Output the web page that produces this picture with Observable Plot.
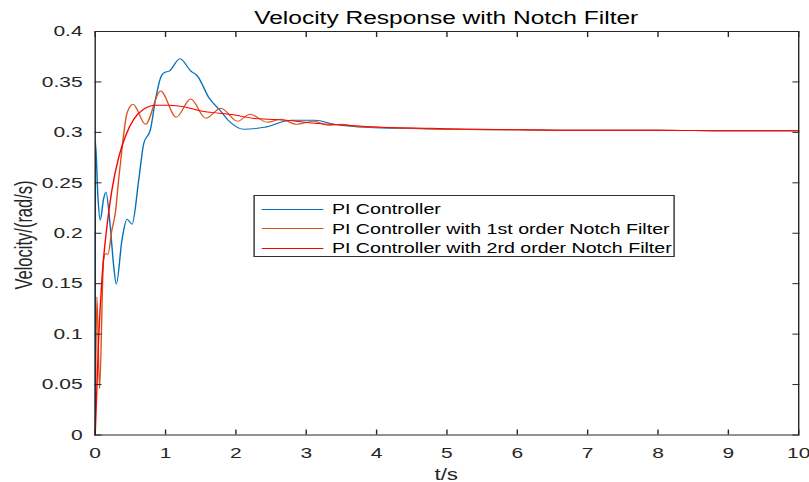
<!DOCTYPE html>
<html>
<head>
<meta charset="utf-8">
<script src="https://cdn.jsdelivr.net/npm/d3@7"></script>
<script src="https://cdn.jsdelivr.net/npm/@observablehq/plot@0.6"></script>
<style>
  html, body { margin: 0; padding: 0; background: #fff; overflow: hidden; }
  #wrap { position: relative; width: 578px; height: 482px; transform: scaleX(1.4); transform-origin: 0 0;
          font-family: "Liberation Sans", Arial, Helvetica, sans-serif; }
  #wrap svg { position: absolute; left: 0; top: 0; }
  .title { position: absolute; left: 67.5px; width: 502.5px; top: 10px; font-size: 17.5px; line-height: 17.5px;
           text-align: center; color: #000; white-space: nowrap; }
  .xlabel { position: absolute; left: 67.5px; width: 502.5px; top: 466.5px; font-size: 16px; line-height: 16px;
            text-align: center; color: #262626; }
  .ylabel { position: absolute; left: -83.2px; top: 225px; width: 200px; height: 20px; line-height: 20px;
            font-size: 16.5px; text-align: center; color: #262626; transform: rotate(-90deg); white-space: nowrap; }
  .legend { position: absolute; left: 180.7px; top: 195px; width: 301px; height: 62px; border: 1px solid #303030;
            background: #fff; box-sizing: border-box; }
  .row { position: absolute; left: 0; height: 18px; line-height: 18px; display: flex; align-items: center;
         font-size: 14px; color: #000; white-space: nowrap; }
  .sample { display: inline-block; width: 43.6px; height: 0; border-top: 1px solid; margin-left: 5.4px; margin-right: 6.4px; }
</style>
</head>
<body>
<div id="wrap"></div>
<script>
// ---- data ----
const seriesNames = ["PI Controller", "PI Controller with 1st order Notch Filter", "PI Controller with 2rd order Notch Filter"];
const seriesColors = ["#0072BD", "#D95319", "#FF0000"];

const tPI = [0, 0.003, 0.038, 0.071, 0.119, 0.152, 0.214, 0.262, 0.3, 0.381, 0.452, 0.524, 0.619, 0.69, 0.786, 0.857, 0.929, 0.976, 1.057, 1.205, 1.357, 1.452, 1.619, 1.786, 1.905, 2.12, 2.405, 2.786, 3.12, 3.4, 3.83, 4.3, 5, 6, 7, 8, 9, 10];
const vPI = [0, 0.291, 0.237, 0.213, 0.234, 0.241, 0.207, 0.168, 0.1496, 0.1935, 0.214, 0.209, 0.253, 0.289, 0.303, 0.3325, 0.354, 0.359, 0.361, 0.373, 0.361, 0.356, 0.334, 0.321, 0.311, 0.303, 0.305, 0.312, 0.312, 0.308, 0.305, 0.304, 0.303, 0.3025, 0.302, 0.302, 0.3015, 0.3015];

const tN1 = [0, 0.024, 0.062, 0.119, 0.15, 0.181, 0.238, 0.286, 0.333, 0.38, 0.452, 0.538, 0.714, 0.929, 1.152, 1.357, 1.571, 1.786, 2.024, 2.2, 2.45, 2.64, 2.86, 3.1, 3.31, 3.5, 3.74, 4.0, 4.5, 5, 6, 7, 8, 9, 10];
const vN1 = [0, 0.137, 0.046, 0.174, 0.18, 0.179, 0.2035, 0.22, 0.253, 0.283, 0.319, 0.328, 0.308, 0.341, 0.315, 0.333, 0.314, 0.324, 0.311, 0.318, 0.310, 0.313, 0.308, 0.311, 0.307, 0.308, 0.3055, 0.305, 0.304, 0.303, 0.3025, 0.302, 0.302, 0.3015, 0.3015];

const tN2 = [0, 0.048, 0.095, 0.167, 0.238, 0.333, 0.429, 0.548, 0.69, 0.857, 1.05, 1.286, 1.524, 1.76, 2.0, 2.24, 2.476, 2.71, 3.12, 3.595, 4.07, 4.786, 5.5, 6, 7, 8, 9, 10];
const vN2 = [0, 0.094, 0.154, 0.207, 0.243, 0.275, 0.296, 0.313, 0.323, 0.327, 0.327, 0.325, 0.321, 0.319, 0.317, 0.314, 0.313, 0.312, 0.309, 0.307, 0.305, 0.304, 0.303, 0.3025, 0.302, 0.302, 0.3015, 0.3015];

const xTicks = [0, 1, 2, 3, 4, 5, 6, 7, 8, 9, 10];
const xTickLabels = ["0", "1", "2", "3", "4", "5", "6", "7", "8", "9", "10"];
const yTicks = [0, 0.05, 0.1, 0.15, 0.2, 0.25, 0.3, 0.35, 0.4];
const yTickLabels = ["0", "0.05", "0.1", "0.15", "0.2", "0.25", "0.3", "0.35", "0.4"];

const titleText = "Velocity Response with Notch Filter";
const xLabelText = "t/s";
const yLabelText = "Velocity/(rad/s)";

// ---- build tables ----
const toRows = (T, V, s) => T.map((t, i) => ({t, v: V[i], series: s}));
const rowsPI = toRows(tPI, vPI, seriesNames[0]);
const rowsN1 = toRows(tN1, vN1, seriesNames[1]);
const rowsN2 = toRows(tN2, vN2, seriesNames[2]);

const chart = Plot.plot({
  width: 578,
  height: 482,
  marginLeft: 67.5,
  marginRight: 8,
  marginTop: 31,
  marginBottom: 47.5,
  style: {fontFamily: '"Liberation Sans", Arial, Helvetica, sans-serif', fontSize: "15px", color: "#262626", background: "transparent", overflow: "visible"},
  x: {domain: [0, 10]},
  y: {domain: [0, 0.4]},
  marks: [
    Plot.line(rowsPI, {x: "t", y: "v", stroke: seriesColors[0], strokeWidth: 1, curve: "monotone-x"}),
    Plot.line(rowsN1, {x: "t", y: "v", stroke: seriesColors[1], strokeWidth: 1, curve: "monotone-x"}),
    Plot.line(rowsN2, {x: "t", y: "v", stroke: seriesColors[2], strokeWidth: 1, curve: "monotone-x"}),
    Plot.frame({stroke: "#262626"}),
    Plot.axisX(xTicks, {anchor: "bottom", tickSize: -5, tickPadding: 17, label: null, tickFormat: d => xTickLabels[xTicks.indexOf(d)]}),
    Plot.axisX(xTicks, {anchor: "top", tickSize: -5, tickPadding: 3, label: null, tickFormat: () => ""}),
    Plot.axisY(yTicks, {anchor: "left", tickSize: -5, tickPadding: 14, label: null, tickFormat: d => yTickLabels[yTicks.indexOf(d)]}),
    Plot.axisY(yTicks, {anchor: "right", tickSize: -5, tickPadding: 3, label: null, tickFormat: () => ""})
  ]
});

const wrap = document.getElementById("wrap");
wrap.appendChild(chart);

const title = document.createElement("div");
title.className = "title"; title.textContent = titleText; wrap.appendChild(title);
const xl = document.createElement("div");
xl.className = "xlabel"; xl.textContent = xLabelText; wrap.appendChild(xl);
const yl = document.createElement("div");
yl.className = "ylabel"; yl.textContent = yLabelText; wrap.appendChild(yl);

const legend = document.createElement("div");
legend.className = "legend";
const rowCenters = [13, 32.5, 52];
seriesNames.forEach((name, i) => {
  const r = document.createElement("div");
  r.className = "row";
  r.style.top = (rowCenters[i] - 9) + "px";
  const s = document.createElement("span");
  s.className = "sample";
  s.style.borderTopColor = seriesColors[i];
  r.appendChild(s);
  const tx = document.createElement("span");
  tx.textContent = name;
  r.appendChild(tx);
  legend.appendChild(r);
});
wrap.appendChild(legend);
</script>
</body>
</html>
